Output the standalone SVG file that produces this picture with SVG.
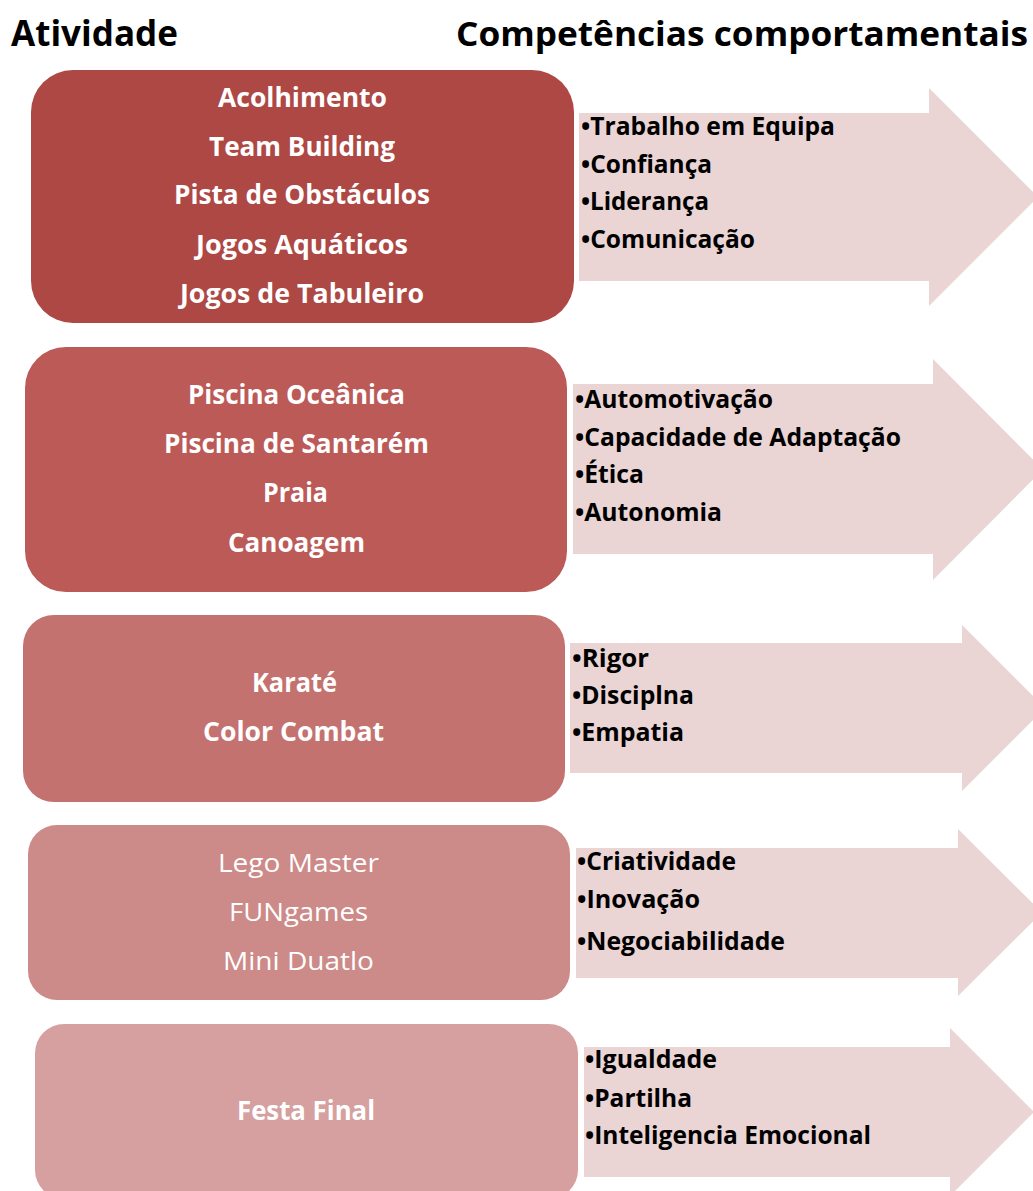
<svg xmlns="http://www.w3.org/2000/svg" width="1033" height="1191" viewBox="0 0 1033 1191">
<style>
.hdr{font-family:"Open Sans","Noto Sans","Liberation Sans",sans-serif;font-weight:700;font-size:36px;fill:#000}
.hdr2{font-family:"Open Sans","Noto Sans","Liberation Sans",sans-serif;font-weight:700;font-size:34px;fill:#000}
.bx{font-family:"Open Sans","Noto Sans","Liberation Sans",sans-serif;font-weight:700;font-size:26px;fill:#fff}
.bxr{font-family:"Open Sans","Noto Sans","Liberation Sans",sans-serif;font-weight:400;font-size:26px;fill:#fff}
.bl{font-family:"Open Sans","Noto Sans","Liberation Sans",sans-serif;font-weight:700;font-size:24.5px;fill:#000}
.arr{fill:#EAD4D4}
</style>
<rect width="1033" height="1191" fill="#fff"/>
<g id="headers">
<text class="hdr" x="11" y="46" textLength="167" lengthAdjust="spacingAndGlyphs">Atividade</text>
<text class="hdr2" x="456" y="46" textLength="572" lengthAdjust="spacingAndGlyphs">Competências comportamentais</text>
</g>
<g id="connectors">
<polygon class="arr" points="579,113 929,113 929,88 1038,197 929,306 929,281 579,281"/>
<polygon class="arr" points="573,384 933,384 933,359 1043,469.5 933,580 933,554 573,554"/>
<polygon class="arr" points="570,643 962,643 962,625 1045,708 962,791 962,773 570,773"/>
<polygon class="arr" points="576,848 958,848 958,829 1042,912.5 958,996 958,978 576,978"/>
<polygon class="arr" points="584,1047 950,1047 950,1028 1034,1112 950,1196 950,1177 584,1177"/>
</g>
<g id="node1">
<rect x="31" y="70" width="543" height="253" rx="42" fill="#AD4845"/>
<text class="bx" x="218" y="107" textLength="169" lengthAdjust="spacingAndGlyphs">Acolhimento</text>
<text class="bx" x="209" y="156" textLength="186" lengthAdjust="spacingAndGlyphs">Team Building</text>
<text class="bx" x="174" y="204" textLength="256" lengthAdjust="spacingAndGlyphs">Pista de Obstáculos</text>
<text class="bx" x="196" y="254" textLength="212" lengthAdjust="spacingAndGlyphs">Jogos Aquáticos</text>
<text class="bx" x="180" y="303" textLength="244" lengthAdjust="spacingAndGlyphs">Jogos de Tabuleiro</text>
</g>
<g id="list1">
<text class="bl" x="581" y="135" textLength="254" lengthAdjust="spacingAndGlyphs">•Trabalho em Equipa</text>
<text class="bl" x="581" y="172.5" textLength="131" lengthAdjust="spacingAndGlyphs">•Confiança</text>
<text class="bl" x="581" y="210" textLength="128" lengthAdjust="spacingAndGlyphs">•Liderança</text>
<text class="bl" x="581" y="247.5" textLength="174" lengthAdjust="spacingAndGlyphs">•Comunicação</text>
</g>
<g id="node2">
<rect x="25" y="347" width="542" height="245" rx="41" fill="#BB5A57"/>
<text class="bx" x="188" y="404" textLength="217" lengthAdjust="spacingAndGlyphs">Piscina Oceânica</text>
<text class="bx" x="164" y="453" textLength="265" lengthAdjust="spacingAndGlyphs">Piscina de Santarém</text>
<text class="bx" x="263" y="502" textLength="65" lengthAdjust="spacingAndGlyphs">Praia</text>
<text class="bx" x="228" y="552" textLength="137" lengthAdjust="spacingAndGlyphs">Canoagem</text>
</g>
<g id="list2">
<text class="bl" x="575" y="408" textLength="198" lengthAdjust="spacingAndGlyphs">•Automotivação</text>
<text class="bl" x="575" y="446" textLength="326" lengthAdjust="spacingAndGlyphs">•Capacidade de Adaptação</text>
<text class="bl" x="575" y="483" textLength="69" lengthAdjust="spacingAndGlyphs">•Ética</text>
<text class="bl" x="575" y="521" textLength="147" lengthAdjust="spacingAndGlyphs">•Autonomia</text>
</g>
<g id="node3">
<rect x="23" y="615" width="542" height="187" rx="31" fill="#C4726F"/>
<text class="bx" x="252" y="692" textLength="85" lengthAdjust="spacingAndGlyphs">Karaté</text>
<text class="bx" x="203" y="741" textLength="181" lengthAdjust="spacingAndGlyphs">Color Combat</text>
</g>
<g id="list3">
<text class="bl" x="572" y="667" textLength="77" lengthAdjust="spacingAndGlyphs">•Rigor</text>
<text class="bl" x="572" y="704" textLength="122" lengthAdjust="spacingAndGlyphs">•Disciplna</text>
<text class="bl" x="572" y="741" textLength="112" lengthAdjust="spacingAndGlyphs">•Empatia</text>
</g>
<g id="node4">
<rect x="28" y="825" width="542" height="175" rx="29" fill="#CC8A88"/>
<text class="bxr" x="218" y="872" textLength="161" lengthAdjust="spacingAndGlyphs">Lego Master</text>
<text class="bxr" x="229" y="921" textLength="139" lengthAdjust="spacingAndGlyphs">FUNgames</text>
<text class="bxr" x="223" y="970" textLength="151" lengthAdjust="spacingAndGlyphs">Mini Duatlo</text>
</g>
<g id="list4">
<text class="bl" x="577" y="870" textLength="159" lengthAdjust="spacingAndGlyphs">•Criatividade</text>
<text class="bl" x="577" y="908" textLength="123" lengthAdjust="spacingAndGlyphs">•Inovação</text>
<text class="bl" x="577" y="950" textLength="208" lengthAdjust="spacingAndGlyphs">•Negociabilidade</text>
</g>
<g id="node5">
<rect x="35" y="1024" width="543" height="175" rx="29" fill="#D6A0A0"/>
<text class="bx" x="237" y="1120" textLength="138" lengthAdjust="spacingAndGlyphs">Festa Final</text>
</g>
<g id="list5">
<text class="bl" x="585" y="1068" textLength="132" lengthAdjust="spacingAndGlyphs">•Igualdade</text>
<text class="bl" x="585" y="1107" textLength="107" lengthAdjust="spacingAndGlyphs">•Partilha</text>
<text class="bl" x="585" y="1144" textLength="286" lengthAdjust="spacingAndGlyphs">•Inteligencia Emocional</text>
</g>
</svg>
